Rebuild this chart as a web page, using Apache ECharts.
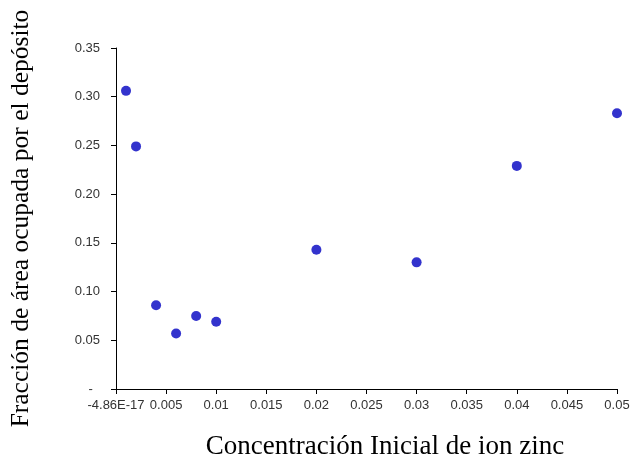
<!DOCTYPE html>
<html>
<head>
<meta charset="utf-8">
<script src="https://cdn.jsdelivr.net/npm/echarts@6/dist/echarts.min.js"></script>
<style>
    html, body { margin: 0; padding: 0; background: #fff; }
    #chart { width: 640px; height: 459px; }
</style>
</head>
<body>
<div id="chart"></div>
<script>
// concentración inicial (x) y fracción de área (y)
const concentracion = [0.001, 0.002, 0.004, 0.006, 0.008, 0.01, 0.02, 0.03, 0.04, 0.05];
const fraccionArea = [0.306, 0.249, 0.086, 0.057, 0.075, 0.069, 0.143, 0.130, 0.229, 0.283];

const xTickValues = [0, 0.005, 0.01, 0.015, 0.02, 0.025, 0.03, 0.035, 0.04, 0.045, 0.05];
const xTickLabels = ['-4.86E-17', '0.005', '0.01', '0.015', '0.02', '0.025', '0.03', '0.035', '0.04', '0.045', '0.05'];
const yTickValues = [0, 0.05, 0.1, 0.15, 0.2, 0.25, 0.3, 0.35];
const yTickLabels = ['-  ', '0.05', '0.10', '0.15', '0.20', '0.25', '0.30', '0.35'];

function tickLabel(values, labels) {
    return function (v) {
        for (let i = 0; i < values.length; i++) {
            if (Math.abs(values[i] - v) < 1e-9) return labels[i];
        }
        return '';
    };
}

const chart = echarts.init(document.getElementById('chart'));

chart.setOption({
    animation: false,
    grid: { left: 116, right: 23, top: 48, bottom: 70, containLabel: false, outerBoundsMode: 'none' },
    xAxis: {
        type: 'value',
        min: 0,
        max: 0.05,
        interval: 0.005,
        name: 'Concentración Inicial de ion zinc',
        nameLocation: 'middle',
        nameGap: 44,
        nameTextStyle: {
            fontFamily: 'Liberation Serif',
            fontSize: 27,
            color: '#000',
            padding: [0, 0, 0, 37]
        },
        splitLine: { show: false },
        axisLine: { lineStyle: { color: '#000', width: 1 } },
        axisTick: { show: true, length: 5, inside: false, lineStyle: { color: '#000' } },
        axisLabel: {
            formatter: tickLabel(xTickValues, xTickLabels),
            fontFamily: 'Liberation Sans',
            fontSize: 13,
            color: '#333',
            margin: 10
        }
    },
    yAxis: {
        type: 'value',
        min: 0,
        max: 0.35,
        interval: 0.05,
        name: 'Fracción de área ocupada por el depósito',
        nameLocation: 'middle',
        nameGap: 82,
        nameTextStyle: {
            fontFamily: 'Liberation Serif',
            fontSize: 25.5,
            color: '#000'
        },
        splitLine: { show: false },
        axisLine: { show: true, lineStyle: { color: '#000', width: 1 } },
        axisTick: { show: true, length: 5, inside: false, lineStyle: { color: '#000' } },
        axisLabel: {
            formatter: tickLabel(yTickValues, yTickLabels),
            fontFamily: 'Liberation Sans',
            fontSize: 13,
            color: '#333',
            margin: 16
        }
    },
    series: [{
        type: 'scatter',
        symbol: 'circle',
        symbolSize: 10,
        itemStyle: { color: '#0000C0' },
        data: concentracion.map((x, i) => [x, fraccionArea[i]])
    }]
});
</script>
</body>
</html>
